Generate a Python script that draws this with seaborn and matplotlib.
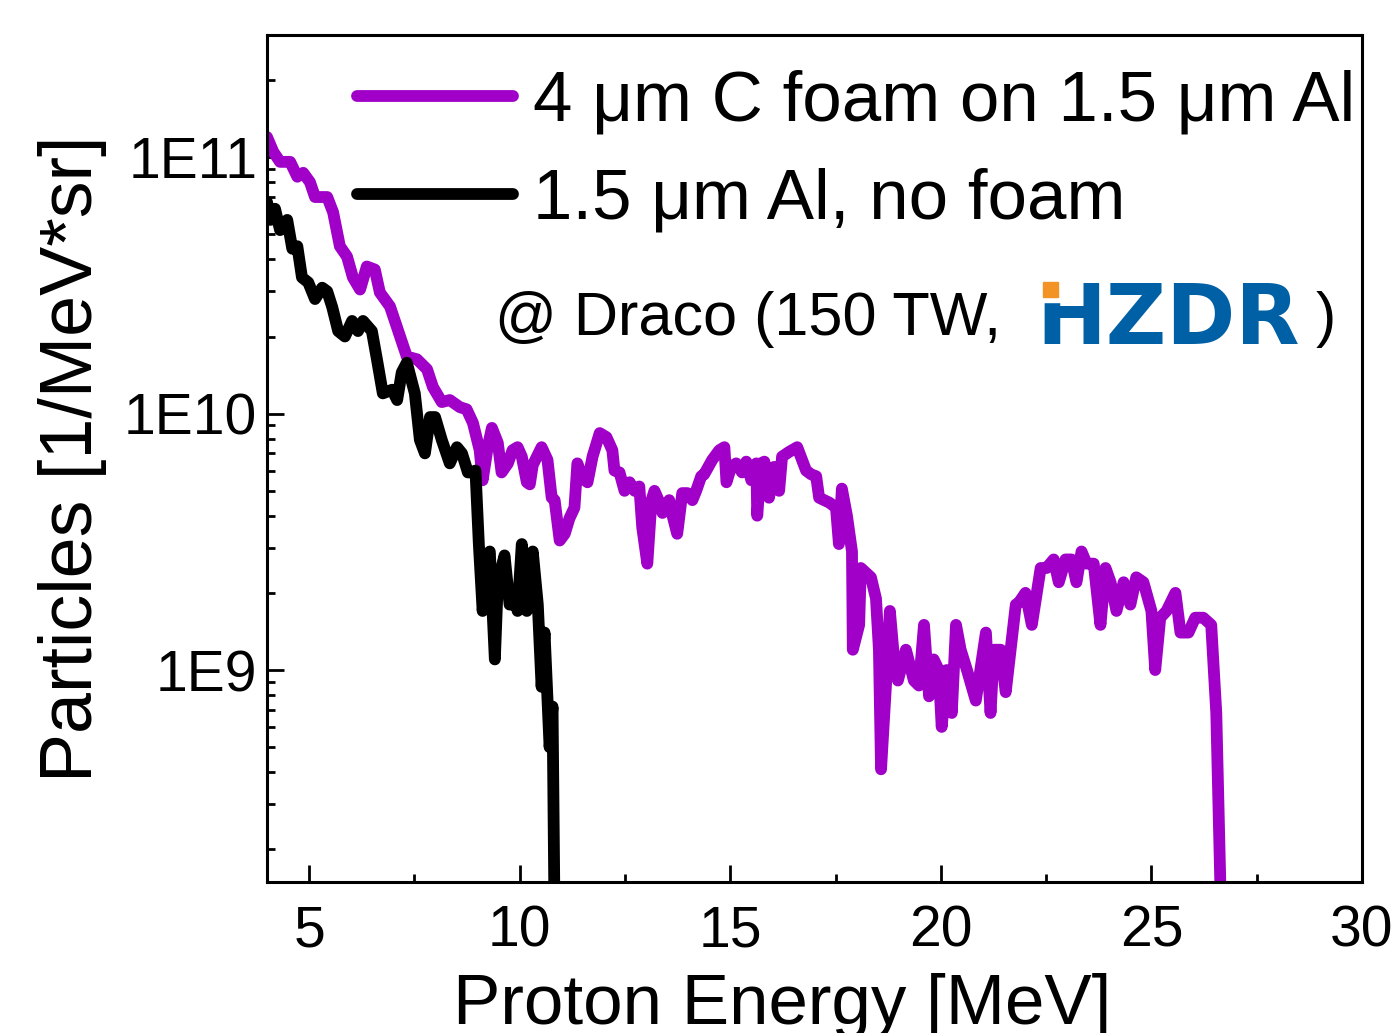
import pandas as pd
import numpy as np
import matplotlib
matplotlib.use('Agg')  # Non-GUI backend
import matplotlib.pyplot as plt
import seaborn as sns
from matplotlib.patches import Rectangle
from matplotlib.ticker import FixedLocator, FixedFormatter, LogLocator, MultipleLocator, NullFormatter

# Proton spectrum, 4 um C foam on 1.5 um Al
foam_energy = [4.00, 4.15, 4.31, 4.55, 4.72, 4.86, 5.02, 5.14, 5.43, 5.57,
               5.73, 5.90, 6.04, 6.21, 6.37, 6.56, 6.68, 6.92, 7.16, 7.32,
               7.56, 7.80, 7.94, 8.15, 8.34, 8.58, 8.74, 8.89, 9.05, 9.12,
               9.24, 9.34, 9.48, 9.57, 9.72, 9.83, 9.95, 10.05, 10.17, 10.24,
               10.31, 10.52, 10.66, 10.76, 10.83, 10.95, 11.07, 11.18, 11.30, 11.37,
               11.49, 11.61, 11.73, 11.90, 12.06, 12.20, 12.25, 12.37, 12.49, 12.61,
               12.73, 12.84, 12.91, 13.03, 13.13, 13.20, 13.32, 13.39, 13.55, 13.63,
               13.74, 13.86, 13.98, 14.10, 14.19, 14.31, 14.38, 14.57, 14.74, 14.86,
               14.91, 15.02, 15.14, 15.28, 15.38, 15.50, 15.62, 15.64, 15.73, 15.81,
               15.92, 16.04, 16.16, 16.23, 16.40, 16.59, 16.80, 16.92, 17.04, 17.11,
               17.23, 17.35, 17.51, 17.58, 17.65, 17.77, 17.89, 17.91, 18.06, 18.10,
               18.34, 18.46, 18.53, 18.58, 18.70, 18.79, 18.89, 18.98, 19.17, 19.36,
               19.48, 19.60, 19.72, 19.83, 19.95, 20.02, 20.14, 20.26, 20.36, 20.47,
               20.62, 20.83, 21.07, 21.18, 21.26, 21.42, 21.54, 21.78, 21.85, 22.01,
               22.16, 22.37, 22.51, 22.68, 22.80, 22.96, 23.10, 23.22, 23.34, 23.46,
               23.63, 23.79, 23.91, 24.03, 24.17, 24.34, 24.50, 24.64, 24.81, 25.00,
               25.09, 25.21, 25.36, 25.57, 25.69, 25.88, 26.04, 26.23, 26.42, 26.54,
               26.66]
foam_counts = [1.20e11, 1.05e11, 9.6e10, 9.6e10, 8.4e10, 8.7e10, 8.0e10, 7.0e10, 7.0e10, 6.1e10,
               4.5e10, 4.1e10, 3.4e10, 3.05e10, 3.75e10, 3.65e10, 2.97e10, 2.62e10, 2.0e10, 1.67e10,
               1.63e10, 1.49e10, 1.27e10, 1.11e10, 1.13e10, 1.06e10, 1.04e10, 9.2e9, 7.2e9, 5.5e9,
               7.4e9, 8.8e9, 7.7e9, 5.9e9, 6.4e9, 7.2e9, 7.4e9, 6.8e9, 5.4e9, 5.3e9,
               6.3e9, 7.4e9, 6.6e9, 4.7e9, 4.6e9, 3.2e9, 3.4e9, 3.9e9, 4.3e9, 6.4e9,
               5.6e9, 5.4e9, 6.8e9, 8.4e9, 8.1e9, 7.2e9, 6.0e9, 5.9e9, 5.0e9, 5.4e9,
               5.0e9, 5.2e9, 3.6e9, 2.6e9, 4.6e9, 5.0e9, 4.5e9, 4.1e9, 4.6e9, 4.0e9,
               3.4e9, 4.9e9, 4.9e9, 4.6e9, 5.0e9, 5.7e9, 5.8e9, 6.6e9, 7.2e9, 7.4e9,
               5.4e9, 6.2e9, 6.4e9, 5.9e9, 6.5e9, 5.5e9, 6.4e9, 4.0e9, 6.4e9, 6.5e9,
               4.7e9, 6.2e9, 5.0e9, 6.8e9, 7.1e9, 7.4e9, 6.0e9, 5.8e9, 5.7e9, 4.7e9,
               4.6e9, 4.5e9, 4.3e9, 3.1e9, 5.1e9, 4.0e9, 2.9e9, 1.2e9, 1.5e9, 2.5e9,
               2.3e9, 1.9e9, 1.2e9, 4.1e8, 8.9e8, 1.7e9, 1.1e9, 9.1e8, 1.2e9, 9.1e8,
               8.7e8, 1.5e9, 7.9e8, 1.1e9, 1.0e9, 6.0e8, 1.0e9, 6.8e8, 1.5e9, 1.2e9,
               1.0e9, 7.6e8, 1.4e9, 6.8e8, 1.2e9, 1.2e9, 8.2e8, 1.8e9, 1.83e9, 2.0e9,
               1.5e9, 2.5e9, 2.5e9, 2.7e9, 2.2e9, 2.7e9, 2.7e9, 2.2e9, 2.9e9, 2.6e9,
               2.6e9, 1.5e9, 2.5e9, 2.2e9, 1.7e9, 2.2e9, 1.8e9, 2.3e9, 2.2e9, 1.7e9,
               1.0e9, 1.6e9, 1.7e9, 2.0e9, 1.4e9, 1.4e9, 1.6e9, 1.6e9, 1.5e9, 6.8e8,
               1.0e8]

# Proton spectrum, 1.5 um Al without foam
nofoam_energy = [4.00, 4.08, 4.19, 4.31, 4.48, 4.60, 4.72, 4.83, 4.98, 5.14,
                 5.31, 5.43, 5.55, 5.69, 5.85, 6.02, 6.16, 6.28, 6.49, 6.61,
                 6.75, 6.97, 7.09, 7.20, 7.32, 7.51, 7.63, 7.75, 7.87, 7.99,
                 8.15, 8.34, 8.51, 8.63, 8.77, 8.86, 8.95, 9.03, 9.12, 9.22,
                 9.29, 9.41, 9.48, 9.64, 9.76, 9.93, 9.95, 10.05, 10.17, 10.31,
                 10.43, 10.52, 10.59, 10.71, 10.78, 10.83]
nofoam_counts = [6.7e10, 5.7e10, 6.3e10, 5.2e10, 5.7e10, 4.4e10, 4.5e10, 3.4e10, 3.25e10, 2.8e10,
                 3.1e10, 3.0e10, 2.6e10, 2.1e10, 2.0e10, 2.3e10, 2.1e10, 2.3e10, 2.1e10, 1.63e10,
                 1.2e10, 1.24e10, 1.13e10, 1.45e10, 1.58e10, 1.2e10, 7.9e9, 7.0e9, 9.7e9, 9.7e9,
                 7.9e9, 6.4e9, 7.4e9, 7.0e9, 5.9e9, 5.9e9, 6.0e9, 3.1e9, 1.7e9, 2.7e9,
                 2.9e9, 1.1e9, 2.2e9, 2.8e9, 1.8e9, 1.8e9, 1.7e9, 3.1e9, 1.7e9, 2.9e9,
                 1.8e9, 8.6e8, 1.4e9, 5.0e8, 7.2e8, 1.0e8]

labels = ['4 \u03bcm C foam on 1.5 \u03bcm Al', '1.5 \u03bcm Al, no foam']
colors = ['#A000C8', '#000000']
x_ticks = [5, 10, 15, 20, 25, 30]
y_ticks = [1e9, 1e10, 1e11]
y_tick_labels = ['1E9', '1E10', '1E11']

df = pd.concat([
    pd.DataFrame({'energy': foam_energy, 'particles': foam_counts, 'target': labels[0]}),
    pd.DataFrame({'energy': nofoam_energy, 'particles': nofoam_counts, 'target': labels[1]}),
], ignore_index=True)

sns.set_theme(style='white')
plt.rcParams['font.family'] = ['Liberation Sans', 'DejaVu Sans']
plt.rcParams['text.color'] = 'black'
plt.rcParams['axes.labelcolor'] = 'black'

fig = plt.figure(figsize=(13.91, 10.33), dpi=100)
ax = fig.add_axes([267 / 1391, 1 - 882 / 1033, (1362 - 267) / 1391, (882 - 35) / 1033])

sns.lineplot(data=df, x='energy', y='particles', hue='target', hue_order=labels,
             palette=dict(zip(labels, colors)), estimator=None, sort=False,
             linewidth=8.5, ax=ax)

ax.set_yscale('log')
ax.set_xlim(4, 30)
ax.set_ylim(1.49e8, 3.0e11)

ax.set_xticks(x_ticks)
ax.xaxis.set_minor_locator(MultipleLocator(2.5))
ax.yaxis.set_major_locator(FixedLocator(y_ticks))
ax.yaxis.set_major_formatter(FixedFormatter(y_tick_labels))
ax.yaxis.set_minor_locator(LogLocator(base=10, subs=range(2, 10)))
ax.yaxis.set_minor_formatter(NullFormatter())

ax.tick_params(axis='both', which='both', bottom=True, left=True, top=False, right=False)
ax.tick_params(axis='both', which='major', direction='in', length=12, width=2,
               labelsize=41, color='black', labelcolor='black')
ax.tick_params(axis='both', which='minor', direction='in', length=6, width=2, color='black')
ax.tick_params(axis='x', which='major', pad=16)
ax.tick_params(axis='y', which='major', pad=7)

for s in ax.spines.values():
    s.set_color('black')
    s.set_linewidth(2.2)

ax.set_xlabel('Proton Energy [MeV]', fontsize=51)
ax.xaxis.set_label_coords(0.470, -0.108)
ax.set_ylabel('Particles [1/MeV*sr]', fontsize=53, labelpad=12)

handles, _ = ax.get_legend_handles_labels()
leg = ax.legend(handles, labels, loc='upper left', bbox_to_anchor=(357 / 1391, 1 - 70 / 1033),
                bbox_transform=fig.transFigure, frameon=False, fontsize=51,
                handlelength=2.2, handletextpad=0.28, labelspacing=0.45,
                borderpad=0, borderaxespad=0)
for line in leg.get_lines():
    line.set_linewidth(8.5)

# facility note with HZDR logo
fig.text(495 / 1391, 1 - 335 / 1033, '@ Draco (150 TW,', fontsize=44, va='baseline', ha='left')
fig.text(1036 / 1391, 1 - 344 / 1033, 'HZDR', family='DejaVu Sans', fontweight='bold',
         fontsize=60, color='#0060A6', va='baseline', ha='left')
fig.patches.append(Rectangle((1040 / 1391, 1 - 302 / 1033), 22 / 1391, 22 / 1033,
                             transform=fig.transFigure, color='white', zorder=5))
fig.patches.append(Rectangle((1043 / 1391, 1 - 297 / 1033), 15 / 1391, 15 / 1033,
                             transform=fig.transFigure, color='#F39325', zorder=6))
fig.text(1316 / 1391, 1 - 335 / 1033, ')', fontsize=44, va='baseline', ha='left')

fig.savefig('out.png', dpi=100)
plt.close(fig)
